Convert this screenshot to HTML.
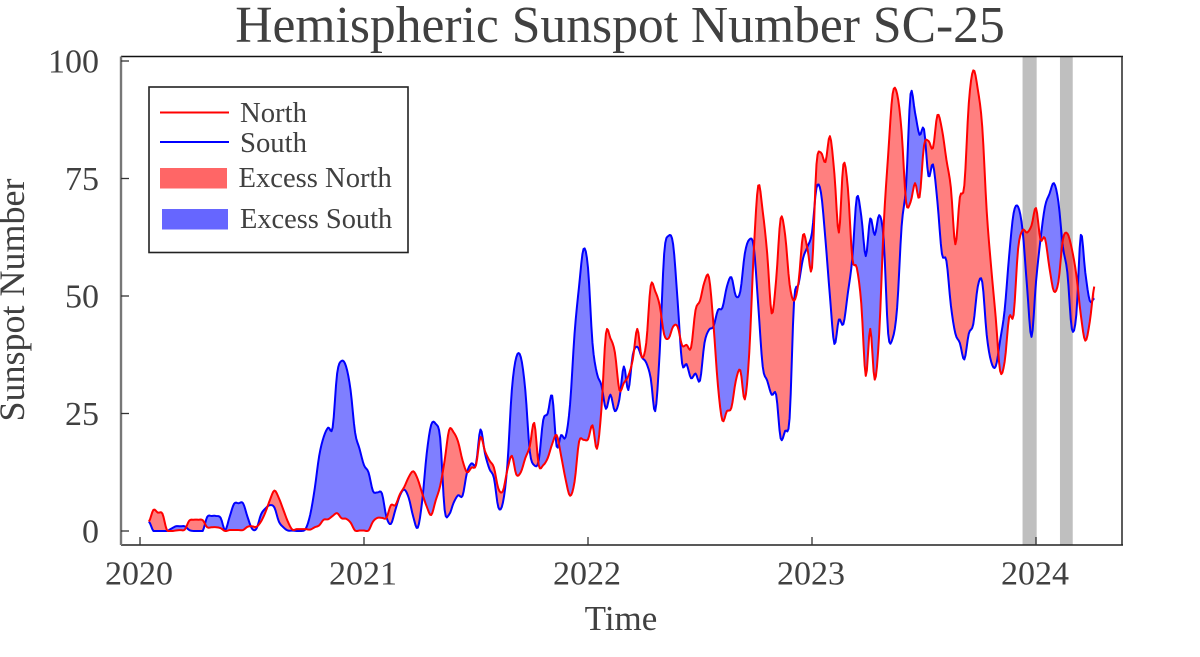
<!DOCTYPE html>
<html lang="en">
<head>
<meta charset="utf-8">
<title>Hemispheric Sunspot Number SC-25</title>
<style>
  html, body { margin: 0; padding: 0; background: #fff; }
  svg { display: block; font-family: "Liberation Serif", serif; filter: blur(0.35px); }
  text { fill: #404040; }
</style>
</head>
<body>
<svg id="chart" width="1200" height="657" viewBox="0 0 1200 657" xmlns="http://www.w3.org/2000/svg">
  <text x="620" y="42" text-anchor="middle" font-size="51.6">Hemispheric Sunspot Number SC-25</text>
  <g id="bands"></g>
  <g id="fills"></g>
  <g id="lines"></g>
  <g id="axes"></g>
  <text x="621" y="630" text-anchor="middle" font-size="35">Time</text>
  <text transform="translate(24,300) rotate(-90)" text-anchor="middle" font-size="36">Sunspot Number</text>
  <g>
    <rect x="149" y="87" width="259" height="165.5" fill="#fff" stroke="#222" stroke-width="1.6"/>
    <line x1="160" x2="229" y1="112.5" y2="112.5" stroke="#ff0000" stroke-width="2"/>
    <text x="240" y="122" font-size="28.7">North</text>
    <line x1="160" x2="229" y1="142" y2="142" stroke="#0000ff" stroke-width="2"/>
    <text x="240" y="152" font-size="28.7">South</text>
    <rect x="160" y="168" width="67" height="20.5" fill="#ff6666"/>
    <text x="238.5" y="187" font-size="28.6">Excess North</text>
    <rect x="162" y="209" width="66" height="20.5" fill="#6666ff"/>
    <text x="240" y="228" font-size="28.4">Excess South</text>
  </g>
</svg>
<script>
const startYear = 2020.04;
const stepYear = 0.02;
const north = [
  2.0,4.5,3.9,3.7,0.2,0,0.1,0.2,0.3,2.2,
  2.4,2.4,2.3,0.8,0.8,0.8,0.6,0,0.2,0.2,
  0.2,0.2,0.9,1.0,0.9,2.0,4.0,6.6,8.6,7,
  4.5,2,0.3,0.4,0.4,0.4,0.3,0.8,1.2,2.4,
  2.5,3.2,3.8,2.7,2.6,1.8,0.1,0.1,0.1,0.1,
  2.0,2.8,2.8,2.8,5.5,5.5,7.8,9.4,11.5,12.7,
  11,8,5.2,3.4,6.5,9.6,15,21.5,21,19,
  15,12.5,13.5,14,20,17,15,13.5,9,8.5,
  13,16,12,12.5,15.5,18,23,14,14,15.5,
  18.5,20.4,16,11,7.5,10.5,19,19.4,19.5,22.5,
  17.5,26,42,41,38,30,31.5,33,36.5,43,
  37,40,52.2,51,48,41.8,41,43.5,43.5,39.5,
  39.6,39,47,49,53,54,44,31,23.5,25.5,
  26.2,32,34.2,28,38,59.5,73.5,68,59,46.3,
  53.5,66.5,63,52.5,49,53,63,60,56,78,
  80.5,78.5,84,76,63.5,78,73,58,56,48.4,
  33,43,32.2,42,65,80,93,93,85,70,
  70,74,71,82,83,81.5,88.5,85.5,79,73,
  61,71,73.5,91,98,94,86,68,56,45.5,
  34,36,45.5,46,60,64,63.5,65,68.7,62,
  62.3,56,51,53,62,63.3,60,54.5,46,40.5,44.5,52
];
const south = [
  2,0,0,0,0,0.5,1,1,1,0.2,
  0,0,0,3,3.2,3.2,2.8,0.2,3,5.8,
  5.9,5.9,3,0.5,0.5,3.5,4.8,5.5,5,2,
  0.8,0.1,0.1,0,0,0.5,3.5,9,16,20,
  22,22,33.5,36.2,35,30,21,17.5,14,12.5,
  8.5,8.2,8,3,1.5,4.5,7.5,8.8,7,3,
  0.7,6.5,16.5,22.6,22.8,19.8,4.5,3.5,6,7.6,
  7.5,12.5,14.4,14.3,21.6,16.5,13.2,11.3,5,6,
  14,30,37,37,30,17,14,15,23.6,25,
  28.8,18,20.4,20,27,42,52,60,56,40,
  33.5,31,26,29,25.5,28,35,30,37.5,39.2,
  37,35.8,32.5,25.5,38,59,62.8,61,49,35.7,
  35.5,32.5,33.5,32,40,42.8,43.5,47,47.5,52,
  54,50,51,59,62,60.5,48,35,32,29,
  29,19.7,21.3,24,49,52.5,58,60.5,63.5,73,
  72,62,50,39.8,45,44,50.6,58,71,67,
  58.5,66.5,63,67.2,62,42,41,47.5,64.8,73.5,
  93,89,84.3,85.5,75.5,78,70,59,57.5,48,
  42,40,36.5,42,44,52,53,41.7,36,35,
  40.6,47,58.5,67.6,69,64,52,41.3,53,62,
  69,71.7,74,70,60.5,55,43,46,63,55,49,49.5
];
const xTickLabels = [2020, 2021, 2022, 2023, 2024];
const yTickLabels = [0, 25, 50, 75, 100];
const gapStartYears = [2023.94, 2024.107];
const gapEndYears = [2024.003, 2024.164];

const times = north.map(function (_, i) { return startYear + i * stepYear; });

const plotLeft = 121, plotRight = 1122, plotTop = 56.5, plotBottom = 545;
function xScale(t) { return 140 + (t - 2020) * 224; }
function yScale(v) { return 531 - v * 4.7; }

const NS = 'http://www.w3.org/2000/svg';
function make(tag, parent, attrs) {
  const el = document.createElementNS(NS, tag);
  for (const k in attrs) el.setAttribute(k, attrs[k]);
  parent.appendChild(el);
  return el;
}

/* Rendering only: draw a smooth curve through every data point. */
const subdivisions = 4;
function smoothSeries(values) {
  const out = [];
  const n = values.length;
  for (let i = 0; i < n - 1; i++) {
    const p0 = values[Math.max(i - 1, 0)], p1 = values[i], p2 = values[i + 1], p3 = values[Math.min(i + 2, n - 1)];
    for (let s = 0; s < subdivisions; s++) {
      const u = s / subdivisions;
      const v = 0.5 * (2 * p1 + (p2 - p0) * u + (2 * p0 - 5 * p1 + 4 * p2 - p3) * u * u + (3 * p1 - p0 - 3 * p2 + p3) * u * u * u);
      out.push(Math.max(v, 0));
    }
  }
  out.push(values[n - 1]);
  return out;
}
function smoothTimes(ts) {
  const out = [];
  for (let i = 0; i < ts.length - 1; i++) {
    for (let s = 0; s < subdivisions; s++) out.push(ts[i] + (ts[i + 1] - ts[i]) * s / subdivisions);
  }
  out.push(ts[ts.length - 1]);
  return out;
}
const drawTimes = smoothTimes(times);
const drawNorth = smoothSeries(north);
const drawSouth = smoothSeries(south);

const bandsG = document.getElementById('bands');
gapStartYears.forEach(function (s, i) {
  const el = make('rect', bandsG, { x: xScale(s), y: plotTop, width: xScale(gapEndYears[i]) - xScale(s), height: plotBottom - plotTop, fill: '#bfbfbf' });
  
  
});

const fillsG = document.getElementById('fills');
function addRun(upper, lower, northAbove) {
  if (upper.length < 2) return;
  const pts = upper.concat(lower.slice().reverse());
  const d = 'M' + pts.map(function (p) { return xScale(p[0]).toFixed(2) + ',' + yScale(p[1]).toFixed(2); }).join('L') + 'Z';
  const el = make('path', fillsG, { d: d, fill: northAbove ? '#ff0000' : '#0000ff', 'fill-opacity': 0.5 });
  
  
}
let runN = [], runS = [], runSign = null;
for (let i = 0; i < drawTimes.length; i++) {
  const diff = drawNorth[i] - drawSouth[i];
  const sign = diff >= 0;
  if (runSign !== null && sign !== runSign) {
    const prev = drawNorth[i - 1] - drawSouth[i - 1];
    const f = prev / (prev - diff);
    const tc = drawTimes[i - 1] + f * (drawTimes[i] - drawTimes[i - 1]);
    const vc = drawNorth[i - 1] + f * (drawNorth[i] - drawNorth[i - 1]);
    runN.push([tc, vc]);
    runS.push([tc, vc]);
    addRun(runN, runS, runSign);
    runN = [[tc, vc]];
    runS = [[tc, vc]];
  }
  runSign = sign;
  runN.push([drawTimes[i], drawNorth[i]]);
  runS.push([drawTimes[i], drawSouth[i]]);
}
addRun(runN, runS, runSign);

const linesG = document.getElementById('lines');
function linePath(values) {
  return 'M' + values.map(function (v, i) { return xScale(drawTimes[i]).toFixed(2) + ',' + yScale(v).toFixed(2); }).join('L');
}
const southLine = make('path', linesG, { d: linePath(drawSouth), fill: 'none', stroke: '#0000ff', 'stroke-width': 2, 'stroke-linejoin': 'round' });


const northLine = make('path', linesG, { d: linePath(drawNorth), fill: 'none', stroke: '#ff0000', 'stroke-width': 2, 'stroke-linejoin': 'round' });



const axesG = document.getElementById('axes');
const frameTop = make('line', axesG, { x1: plotLeft, x2: plotRight + 1, y1: plotTop, y2: plotTop, stroke: '#111', 'stroke-width': 1.6 });


const frameRight = make('line', axesG, { x1: plotRight, x2: plotRight, y1: plotTop, y2: plotBottom, stroke: '#333', 'stroke-width': 1.6 });


const frameBottom = make('line', axesG, { x1: plotLeft, x2: plotRight + 1, y1: plotBottom, y2: plotBottom, stroke: '#222', 'stroke-width': 1.6 });


const frameLeft = make('line', axesG, { x1: plotLeft, x2: plotLeft, y1: plotTop, y2: plotBottom, stroke: '#777', 'stroke-width': 2.4 });



xTickLabels.forEach(function (yr) {
  const px = xScale(yr);
  const tick = make('line', axesG, { x1: px, x2: px, y1: plotBottom, y2: plotBottom - 8, stroke: '#333', 'stroke-width': 1.3 });
  
  
  const label = make('text', axesG, { x: px - 1, y: 584.5, 'text-anchor': 'middle', 'font-size': 34 });
  label.textContent = String(yr);
  
  
});
yTickLabels.forEach(function (v) {
  const py = yScale(v);
  const tick = make('line', axesG, { x1: plotLeft, x2: plotLeft + 8, y1: py, y2: py, stroke: '#333', 'stroke-width': 1.3 });
  
  
  const label = make('text', axesG, { x: 99, y: py + 11.5, 'text-anchor': 'end', 'font-size': 34 });
  label.textContent = String(v);
  
  
});
</script>
</body>
</html>
